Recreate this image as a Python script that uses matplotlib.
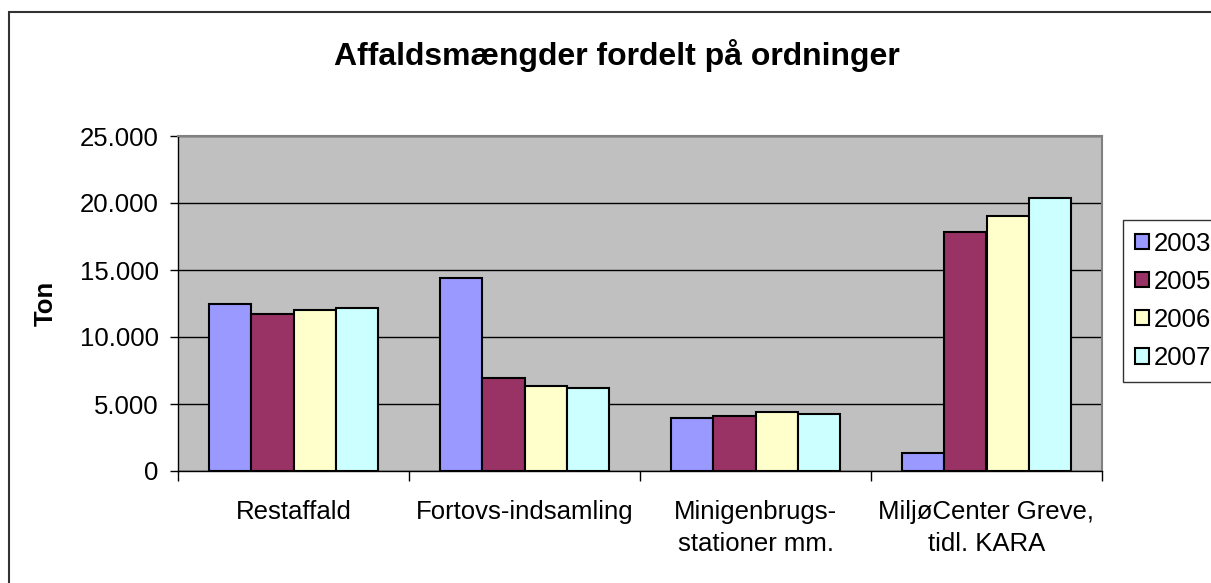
import matplotlib
matplotlib.use("Agg")
import matplotlib.pyplot as plt
from matplotlib.patches import Rectangle, Patch
import numpy as np

categories = ["Restaffald", "Fortovs-indsamling", "Minigenbrugs-\nstationer mm.", "MiljøCenter Greve,\ntidl. KARA"]
years = ["2003", "2005", "2006", "2007"]
values = {
    "2003": [12460, 14380, 3930, 1370],
    "2005": [11700, 6940, 4080, 17830],
    "2006": [11990, 6320, 4380, 19030],
    "2007": [12140, 6190, 4230, 20370],
}
colors = ["#9999FF", "#993366", "#FFFFCC", "#CCFFFF"]
yticks = [0, 5000, 10000, 15000, 20000, 25000]
ytick_labels = ["0", "5.000", "10.000", "15.000", "20.000", "25.000"]

plt.rcParams['font.family'] = ['Liberation Sans', 'DejaVu Sans']
W, H = 1211, 583
fig = plt.figure(figsize=(W / 100, H / 100), dpi=100)

# outer chart border
fig.patches.append(Rectangle((9 / W, -0.1), 1.2, 1 - 12 / H + 0.1, transform=fig.transFigure,
                             fill=False, edgecolor="#333333", linewidth=1.5))

ax = fig.add_axes([178 / W, (H - 471) / H, (1102 - 178) / W, (471 - 136) / H])
ax.set_facecolor("#C0C0C0")

x = np.arange(len(categories))
bw = 0.182
for k, (yr, c) in enumerate(zip(years, colors)):
    ax.bar(x + (k - 1.5) * bw, values[yr], width=bw, color=c, edgecolor="black",
           linewidth=1.5, label=yr, zorder=3)

ax.set_xlim(-0.5, len(categories) - 0.5)
ax.set_ylim(0, 25000)
ax.set_yticks(yticks)
ax.set_yticklabels(ytick_labels, fontsize=18.5)
ax.set_xticks(x)
ax.set_xticklabels(categories, fontsize=18.5, linespacing=1.4)
ax.tick_params(axis="x", length=0, pad=21)
ax.set_xticks(np.arange(-0.5, len(categories)), minor=True)
ax.tick_params(axis="x", which="minor", length=7, width=1, color="black", direction="out")
ax.tick_params(axis="y", length=6, width=1, direction="out", pad=8)
ax.yaxis.grid(True, color="black", linewidth=1, zorder=1)
ax.set_axisbelow(True)
for s in ["top", "right"]:
    ax.spines[s].set_color("#808080")
    ax.spines[s].set_linewidth(1.5)
for s in ["left", "bottom"]:
    ax.spines[s].set_color("black")
    ax.spines[s].set_linewidth(1)

fig.text(46 / W, 1 - 303 / H, "Ton", rotation=90, fontsize=18.5, fontweight="bold",
         ha="center", va="center")
fig.text(617 / W, 1 - 55 / H, "Affaldsmængder fordelt på ordninger", fontsize=23,
         fontweight="bold", ha="center", va="center")

handles = [Patch(facecolor=c, edgecolor="black", linewidth=1.5) for c in colors]
leg = fig.legend(handles, years, loc="upper left", bbox_to_anchor=(1123 / W, 1 - 220 / H),
                 fontsize=18.5, frameon=True, fancybox=False, edgecolor="black",
                 handlelength=0.55, handleheight=0.55, handletextpad=0.2,
                 labelspacing=0.55, borderpad=0.45, borderaxespad=0)
leg.get_frame().set_linewidth(1)

fig.savefig("out.png", dpi=100)
